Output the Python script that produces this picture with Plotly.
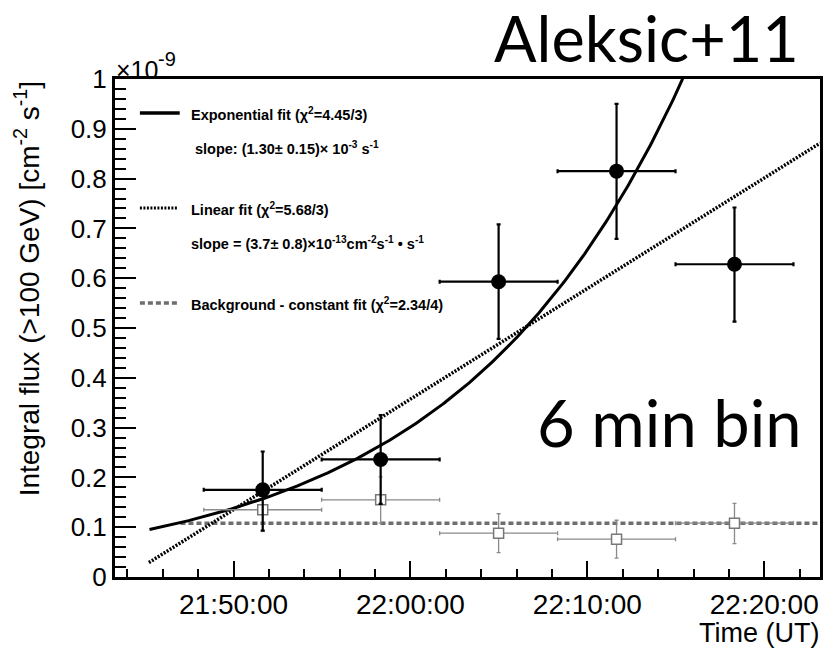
import numpy as np
import plotly.graph_objects as go
from datetime import datetime

# ---------------- data ----------------
bin_times = ["21:51:39", "21:58:19", "22:04:59", "22:11:39", "22:18:19"]
bin_half_s = [200, 200, 200, 200, 200]

flux = [0.175, 0.236, 0.593, 0.815, 0.628]
flux_err_up = [0.077, 0.089, 0.115, 0.135, 0.114]
flux_err_dn = [0.082, 0.089, 0.115, 0.136, 0.115]

bkg = [0.135, 0.155, 0.088, 0.076, 0.108]
bkg_err_up = [0.036, 0.046, 0.039, 0.038, 0.040]
bkg_err_dn = [0.043, 0.047, 0.039, 0.038, 0.041]

tick_labels = ["21:50:00", "22:00:00", "22:10:00", "22:20:00"]
ref_time = "21:50:00"
x_range = ["21:43:18", "22:23:09"]

exp_norm = 0.138             # value at ref_time
exp_slope = 1.30e-3          # s^-1
exp_span = ["21:45:15", "22:16:00"]

lin_start = "21:45:13"
lin_start_value = 0.029
lin_slope = 3.7e-4           # (1e-9 cm^-2 s^-1) per s
lin_end = "22:23:09"

const_value = 0.108
const_span = ["21:47:00", "22:23:09"]

# ---------------- helpers ----------------
def S(s):
    """seconds relative to ref_time"""
    f = "%H:%M:%S"
    return (datetime.strptime(s, f) - datetime.strptime(ref_time, f)).total_seconds()

x_bins = [S(t) for t in bin_times]
tick_vals = [S(t) for t in tick_labels]

t_exp = np.linspace(S(exp_span[0]), S(exp_span[1]), 300)
y_exp = exp_norm * np.exp(exp_slope * t_exp)

x_lin = [S(lin_start), S(lin_end)]
y_lin = [lin_start_value, lin_start_value + lin_slope * (x_lin[1] - x_lin[0])]

x_const = [S(const_span[0]), S(const_span[1])]
y_const = [const_value, const_value]

# pixel -> paper conversions for decoration placement
L, R, TOP, BOT = 115, 823, 79, 577
def px(x):
    return (x - L) / (R - L)
def py(y):
    return (BOT - y) / (BOT - TOP)

DOT = "2px,1.5px"
DASH = "5px,3px"

fig = go.Figure()

fig.add_trace(go.Scatter(x=x_const, y=y_const, mode="lines",
                         line=dict(color="#6e6e6e", width=3.5, dash=DASH),
                         showlegend=False, hoverinfo="skip"))
fig.add_trace(go.Scatter(x=x_lin, y=y_lin, mode="lines",
                         line=dict(color="black", width=3.5, dash=DOT),
                         showlegend=False, hoverinfo="skip"))
fig.add_trace(go.Scatter(x=t_exp, y=y_exp, mode="lines",
                         line=dict(color="black", width=3),
                         showlegend=False, hoverinfo="skip"))

# background points
fig.add_trace(go.Scatter(
    x=x_bins, y=bkg, mode="markers",
    marker=dict(symbol="square", size=10, color="white",
                line=dict(color="#777777", width=1.5)),
    error_x=dict(type="data", array=bin_half_s, color="#8a8a8a", thickness=1.3, width=2),
    error_y=dict(type="data", array=bkg_err_up, arrayminus=bkg_err_dn,
                 color="#8a8a8a", thickness=1.3, width=2),
    showlegend=False))

# signal points
fig.add_trace(go.Scatter(
    x=x_bins, y=flux, mode="markers",
    marker=dict(symbol="circle", size=15, color="black"),
    error_x=dict(type="data", array=bin_half_s, color="black", thickness=2.2, width=2),
    error_y=dict(type="data", array=flux_err_up, arrayminus=flux_err_dn,
                 color="black", thickness=2.2, width=2),
    showlegend=False))

FONT = "Liberation Sans, Arial, Helvetica, sans-serif"

fig.update_layout(
    width=827, height=649,
    margin=dict(l=L, r=827 - R, t=TOP, b=649 - BOT),
    paper_bgcolor="white", plot_bgcolor="white",
    font=dict(family=FONT, color="black"),
    showlegend=False,
)

fig.update_xaxes(
    range=[S(x_range[0]), S(x_range[1])],
    tickmode="array", tickvals=tick_vals, ticktext=tick_labels,
    ticks="inside", ticklen=16, tickwidth=1.5, tickcolor="black",
    tickfont=dict(size=28, family=FONT, color="black"),
    minor=dict(ticks="inside", ticklen=8, tickwidth=1.5, tickcolor="black",
               tickmode="linear", tick0=0, dtick=120),
    showline=True, linewidth=3, linecolor="black", mirror=True,
    showgrid=False, zeroline=False,
)
fig.update_yaxes(
    range=[0, 1], tick0=0, dtick=0.1,
    ticks="inside", ticklen=21, tickwidth=1.5, tickcolor="black",
    tickfont=dict(size=26, family=FONT, color="black"),
    minor=dict(ticks="inside", ticklen=11, tickwidth=1.5, tickcolor="black", dtick=0.02),
    showline=True, linewidth=3, linecolor="black", mirror=True,
    showgrid=False, zeroline=False,
)

# legend sample lines
fig.add_shape(type="line", xref="paper", yref="paper", x0=px(140), x1=px(180),
              y0=py(113), y1=py(113), line=dict(color="black", width=3.5))
fig.add_shape(type="line", xref="paper", yref="paper", x0=px(140), x1=px(178),
              y0=py(208), y1=py(208), line=dict(color="black", width=3, dash=DOT))
fig.add_shape(type="line", xref="paper", yref="paper", x0=px(140), x1=px(180),
              y0=py(303), y1=py(303), line=dict(color="#6e6e6e", width=3.5, dash=DASH))

ann = []
def add_text(text, x, y, size, xanchor="left", yanchor="middle", family=FONT, angle=0):
    ann.append(dict(text=text, x=px(x), y=py(y), xref="paper", yref="paper",
                    xanchor=xanchor, yanchor=yanchor, showarrow=False,
                    textangle=angle, font=dict(size=size, family=family, color="black")))

LEG = 14.5
add_text("<b>Exponential fit (χ<sup>2</sup>=4.45/3)</b>", 189, 114, LEG)
add_text("<b>slope: (1.30± 0.15)× 10<sup>-3</sup> s<sup>-1</sup></b>", 193, 148, LEG)
add_text("<b>Linear fit (χ<sup>2</sup>=5.68/3)</b>", 189, 209, LEG)
add_text("<b>slope = (3.7± 0.8)×10<sup>-13</sup>cm<sup>-2</sup>s<sup>-1</sup> • s<sup>-1</sup></b>", 189, 243, LEG)
add_text("<b>Background - constant fit (χ<sup>2</sup>=2.34/4)</b>", 189, 304, LEG)

add_text("×10", 114, 70, 25)
add_text("-9", 156, 59, 20)
add_text("Integral flux (>100 GeV) [cm<sup>-2</sup> s<sup>-1</sup>]", 27, 289, 28,
         xanchor="center", angle=-90)
add_text("Time (UT)", 824, 633, 27, xanchor="right")

GILL = "Lato, Gill Sans, Open Sans, sans-serif"
add_text("Aleksic+11", 804, 37, 63, xanchor="right", family=GILL)
add_text("6 min bin", 807, 422, 65, xanchor="right", family=GILL)

fig.update_layout(annotations=ann)

fig.write_html("out.html")
